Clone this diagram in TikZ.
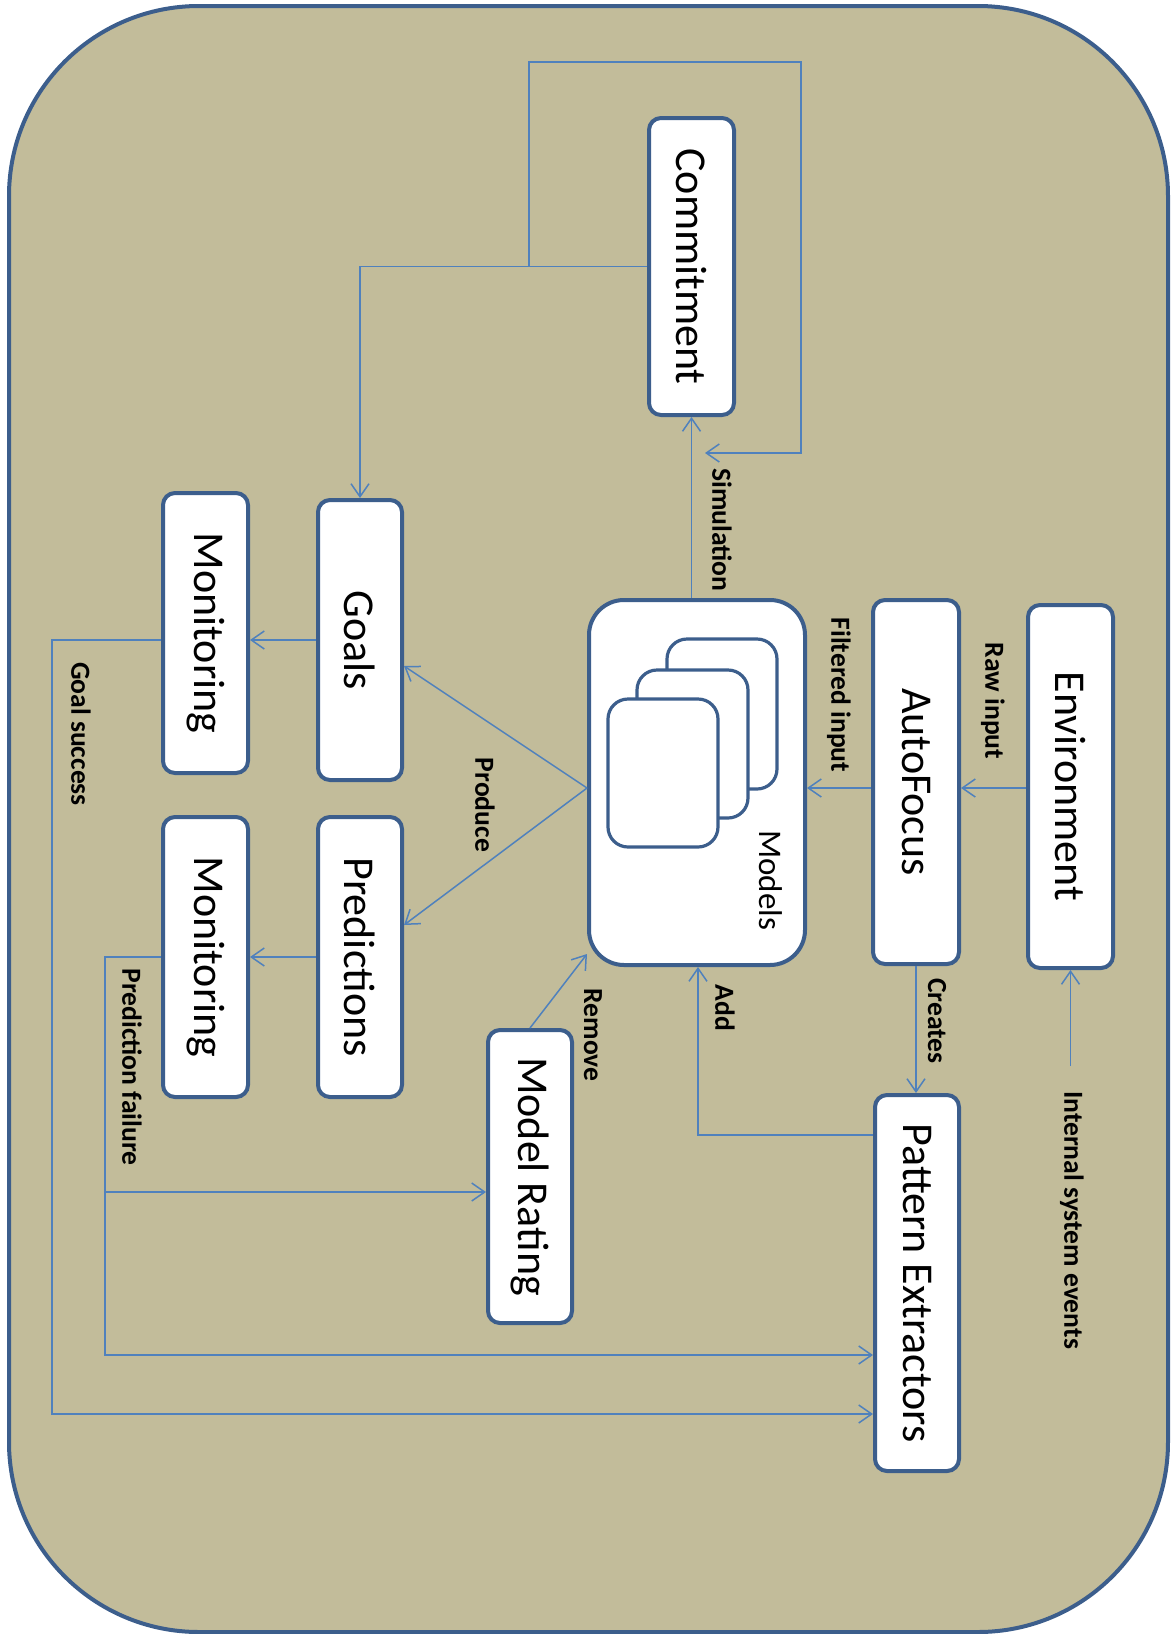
\documentclass[tikz,border=0pt]{standalone}
\usepackage{fontspec}
\setmainfont{Carlito}
\usetikzlibrary{arrows.meta,calc}
\definecolor{bg}{RGB}{194,188,154}
\definecolor{bord}{RGB}{60,94,140}
\definecolor{conn}{RGB}{79,129,189}
\begin{document}
\begin{tikzpicture}[x=0.5pt,y=-0.5pt,
 blk/.style={draw=bord, line width=2pt, fill=white, rounded corners=6pt, inner sep=0pt, font=\fontsize{22}{26}\selectfont},
 lbl/.style={rotate=-90, inner sep=0pt, font=\bfseries\fontsize{13.8}{16}\selectfont},
 cn/.style={draw=conn, line width=0.75pt},
 arr/.style={cn, -{Straight Barb[length=6.5pt,width=9pt]}},
 card/.style={draw=bord, line width=1.6pt, fill=white, rounded corners=10pt}]
\useasboundingbox (0,0) rectangle (1173,1634);
\path[fill=bg, draw=bord, line width=2pt, rounded corners=95pt] (9,6) rectangle (1168,1632);

% boxes
\node[blk, minimum width=42.5pt, minimum height=148.5pt] (com) at (691.5,266.5) {\rotatebox{-90}{Commitment}};
\node[blk, rounded corners=17.5pt, minimum width=108pt, minimum height=182.5pt] (mod) at (697,782.5) {};
\draw[card] (667,639) rectangle (777,789);
\draw[card] (637,670) rectangle (748,818);
\draw[card] (608,699) rectangle (718,847);
\node[rotate=-90, inner sep=0pt, font=\fontsize{16.5}{20}\selectfont] (modlbl) at (771,880) {Models};
\node[blk, minimum width=43pt, minimum height=182pt] (af) at (916,782) {\rotatebox{-90}{AutoFocus}};
\node[blk, minimum width=42.5pt, minimum height=181.5pt] (env) at (1070.5,786.5) {\rotatebox{-90}{Environment}};
\node[blk, minimum width=42pt, minimum height=188pt] (pe) at (917,1283) {\rotatebox{-90}{Pattern Extractors}};
\node[blk, minimum width=42pt, minimum height=146.5pt] (mr) at (530,1176.5) {\rotatebox{-90}{Model Rating}};
\node[blk, minimum width=42pt, minimum height=140pt] (goals) at (360,640) {\rotatebox{-90}{Goals}};
\node[blk, minimum width=42.5pt, minimum height=140pt] (mon1) at (205.5,633) {\rotatebox{-90}{Monitoring}};
\node[blk, minimum width=42pt, minimum height=140pt] (pred) at (360,957) {\rotatebox{-90}{Predictions}};
\node[blk, minimum width=42.5pt, minimum height=140pt] (mon2) at (205.5,957) {\rotatebox{-90}{Monitoring}};

% connectors
\draw[arr] (com.west) -| (goals.north);
\path (com.west) ++(-118,0) coordinate (j);
\coordinate (ltr) at (801,62);
\coordinate (lend) at (705,453);
\draw[arr] (j) |- (ltr) |- (lend);
\draw[arr] (mod.north -| com.south) -- (com.south);
\coordinate (midy) at ($(mod.west)+(0,5.5)$);
\draw[arr] (env.west |- midy) -- (af.east |- midy);
\draw[arr] (af.west |- midy) -- (mod.east |- midy);
\draw[arr] (af.south) -- (af.south |- pe.north);
\coordinate (ise) at (1070.5,1066);
\draw[arr] (ise) -- (env.south);
\coordinate (addc) at (698,1135);
\draw[arr] (pe.west |- addc) -- (addc) -- (addc |- mod.south);
\draw[arr] (mr.north) -- ($(mod.south west)+(0,-13)$);
\draw[arr] (mod.west |- midy) -- ($(goals.east)+(0,26)$);
\draw[arr] (mod.west |- midy) -- ($(pred.east)+(0,-32)$);
\draw[arr] (goals.west) -- (goals.west -| mon1.east);
\draw[arr] (pred.west) -- (pred.west -| mon2.east);
\coordinate (gs) at (52,1414);
\draw[arr] (goals.west -| mon1.west) -- (gs |- goals.west) -- (gs) -- (gs -| pe.west);
\coordinate (pf) at (105,1355);
\draw[arr] (mon2.west) -- (mon2.west -| pf) -- (pf) -- (pf -| pe.west);
\coordinate (pfb) at (105,1192);
\draw[arr] (pfb) -- (pfb -| mr.west);

% labels
\node[lbl] (lsim) at (722,530) {Simulation};
\node[lbl] (lraw) at (993,701) {Raw input};
\node[lbl] (lfil) at (839,695) {Filtered input};
\node[lbl] (lcre) at (937,1021) {Creates};
\node[lbl] (lise) at (1072,1220) {Internal system events};
\node[lbl] (ladd) at (725,1008) {Add};
\node[lbl] (lrem) at (593,1035) {Remove};
\node[lbl] (lpro) at (485,805) {Produce};
\node[lbl] (lgs) at (81,734) {Goal success};
\node[lbl] (lpf) at (132,1067) {Prediction failure};
\end{tikzpicture}
\end{document}
